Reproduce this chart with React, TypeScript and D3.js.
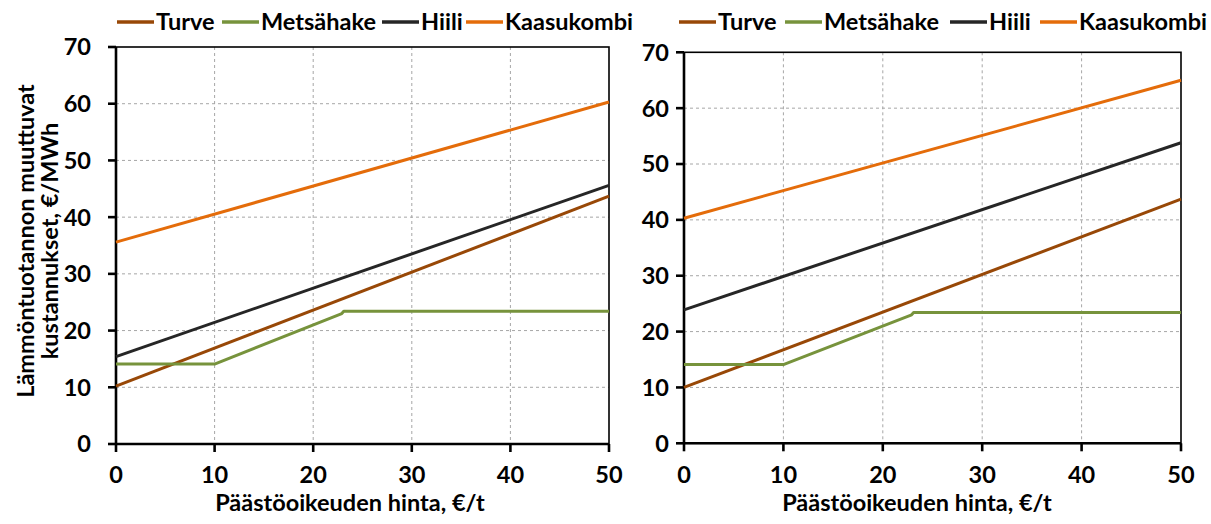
import React from "react";
import * as d3 from "d3";

// Emission allowance price, €/t
const xTicks = [0, 10, 20, 30, 40, 50];
const yTicks = [0, 10, 20, 30, 40, 50, 60, 70];

const seriesNames = ["Turve", "Metsähake", "Hiili", "Kaasukombi"];
const seriesColors = ["#984807", "#77933C", "#262626", "#E46C0A"];

// Left chart: variable heat production costs, €/MWh
const turveA: [number, number][] = [[0, 10.2], [50, 43.7]];
const metsahakeA: [number, number][] = [[0, 14.1], [10, 14.1], [22.9, 23.0], [23.1, 23.4], [50, 23.4]];
const hiiliA: [number, number][] = [[0, 15.4], [50, 45.6]];
const kaasukombiA: [number, number][] = [[0, 35.6], [50, 60.3]];

// Right chart
const turveB: [number, number][] = [[0, 10.0], [50, 43.7]];
const metsahakeB: [number, number][] = [[0, 14.1], [10, 14.1], [22.9, 23.0], [23.1, 23.4], [50, 23.4]];
const hiiliB: [number, number][] = [[0, 23.9], [50, 53.8]];
const kaasukombiB: [number, number][] = [[0, 40.3], [50, 65.0]];

const FONT = "Lato, 'Open Sans', sans-serif";
const FS = 23.5;

type PanelProps = {
  x0: number; x1: number; yTop: number; yBottom: number;
  series: [number, number][][];
  legendX: number[];
  titleX: number;
  labelGap: number;
  tickBaseline: number;
};

function Panel({ x0, x1, yTop, yBottom, series, legendX, titleX, labelGap, tickBaseline }: PanelProps) {
  const x = d3.scaleLinear().domain([0, 50]).range([x0, x1]);
  const y = d3.scaleLinear().domain([0, 70]).range([yBottom, yTop]);
  const line = d3.line<[number, number]>().x(d => x(d[0])).y(d => y(d[1]));
  return (
    <g>
      {/* gridlines */}
      {yTicks.filter(t => t > 0 && t < 70).map(t => (
        <line key={"gy" + t} x1={x0} x2={x1} y1={y(t)} y2={y(t)} stroke="#a6a6a6" strokeWidth={1} strokeDasharray="3,3" />
      ))}
      {xTicks.filter(t => t > 0 && t < 50).map(t => (
        <line key={"gx" + t} x1={x(t)} x2={x(t)} y1={yTop} y2={yBottom} stroke="#a6a6a6" strokeWidth={1} strokeDasharray="3,3" />
      ))}
      {/* plot frame */}
      <rect x={x0} y={yTop} width={x1 - x0} height={yBottom - yTop} fill="none" stroke="#000" strokeWidth={1.6} />
      {/* axes */}
      <line x1={x0} x2={x0} y1={yTop} y2={yBottom} stroke="#000" strokeWidth={2.6} />
      <line x1={x0} x2={x1} y1={yBottom} y2={yBottom} stroke="#000" strokeWidth={2.6} />
      {yTicks.map(t => (
        <g key={"ty" + t}>
          <line x1={x0 - 8} x2={x0} y1={y(t)} y2={y(t)} stroke="#000" strokeWidth={2.6} />
          <text x={x0 - labelGap} y={y(t)} dy="0.36em" textAnchor="end" fontFamily={FONT} fontWeight={700} fontSize={FS} fill="#000">{t}</text>
        </g>
      ))}
      {xTicks.map(t => (
        <g key={"tx" + t}>
          <line x1={x(t)} x2={x(t)} y1={yBottom} y2={yBottom + 8} stroke="#000" strokeWidth={2.6} />
          <text x={x(t)} y={tickBaseline} textAnchor="middle" fontFamily={FONT} fontWeight={700} fontSize={FS} fill="#000">{t}</text>
        </g>
      ))}
      <text x={titleX} y={511} textAnchor="middle" fontFamily={FONT} fontWeight={700} fontSize={FS} fill="#000">Päästöoikeuden hinta, €/t</text>
      {/* series */}
      {series.map((s, i) => (
        <path key={"s" + i} d={line(s) || ""} fill="none" stroke={seriesColors[i]} strokeWidth={3} strokeLinejoin="round" />
      ))}
      {/* legend */}
      {seriesNames.map((n, i) => (
        <g key={"lg" + i}>
          <line x1={legendX[i]} x2={legendX[i] + 37} y1={22} y2={22} stroke={seriesColors[i]} strokeWidth={3.5} />
          <text x={legendX[i] + 39} y={22} dy="0.36em" fontFamily={FONT} fontWeight={700} fontSize={FS} fill="#000">{n}</text>
        </g>
      ))}
    </g>
  );
}

export default function App() {
  return (
    <svg width={1211} height={524} style={{ display: "block", position: "absolute", left: 0, top: 0, background: "#fff" }}>
      <rect x={0} y={0} width={1211} height={524} fill="#fff" />
      <g transform="translate(26,241) rotate(-90)">
        <text x={0} y={0} dy="0.36em" textAnchor="middle" fontFamily={FONT} fontWeight={700} fontSize={FS} fill="#000">Lämmöntuotannon muuttuvat</text>
        <text x={0} y={24} dy="0.36em" textAnchor="middle" fontFamily={FONT} fontWeight={700} fontSize={FS} fill="#000">kustannukset, €/MWh</text>
      </g>
      <Panel x0={116} x1={609} yTop={47} yBottom={444} titleX={350} labelGap={25} tickBaseline={483}
        series={[turveA, metsahakeA, hiiliA, kaasukombiA]}
        legendX={[117, 222, 382, 466]} />
      <Panel x0={684} x1={1181} yTop={52.3} yBottom={443.3} titleX={917} labelGap={15} tickBaseline={483}
        series={[turveB, metsahakeB, hiiliB, kaasukombiB]}
        legendX={[679, 785, 950, 1040]} />
    </svg>
  );
}
